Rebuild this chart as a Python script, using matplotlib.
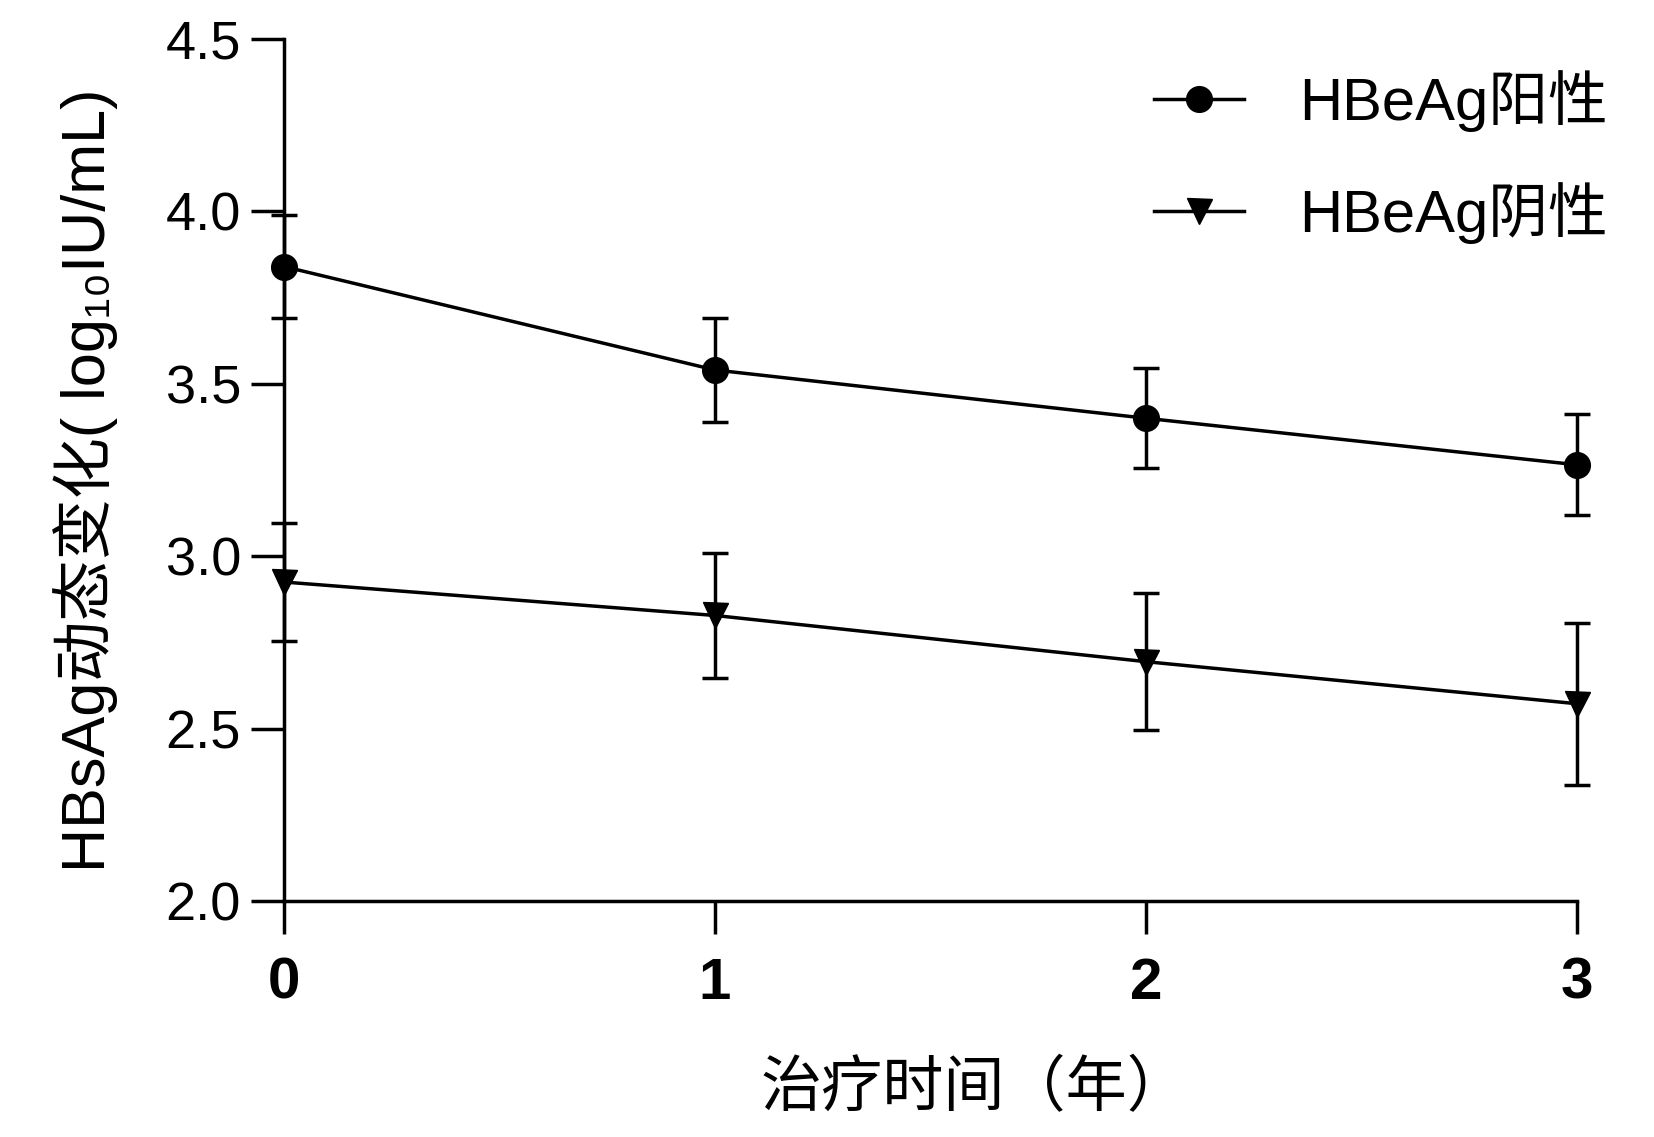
import matplotlib
matplotlib.use("Agg")
import matplotlib.pyplot as plt

plt.rcParams['font.family'] = ['Liberation Sans', 'Noto Sans CJK SC', 'DejaVu Sans']

years = [0, 1, 2, 3]
xtick_labels = ['0', '1', '2', '3']
pos_mean = [3.84, 3.54, 3.40, 3.265]
pos_err = [0.15, 0.15, 0.145, 0.147]
neg_mean = [2.925, 2.828, 2.694, 2.572]
neg_err = [0.172, 0.18, 0.198, 0.235]
series_labels = ['HBeAg阳性', 'HBeAg阴性']
yticks = [2.0, 2.5, 3.0, 3.5, 4.0, 4.5]

fig = plt.figure(figsize=(16.54, 11.37), dpi=100)
ax = fig.add_axes([0.1717, 0.2076, 0.9535 - 0.1717, 0.9657 - 0.2076])

common = dict(color='black', lw=2.5, elinewidth=2.5, capsize=9.5, capthick=2.5, clip_on=False)
e1 = ax.errorbar(years, pos_mean, yerr=pos_err, marker='o', ms=18.5, **common)
e2 = ax.errorbar(years, neg_mean, yerr=neg_err, marker='v', ms=18, **common)
for e in (e1, e2):
    for art in list(e.lines[1]) + list(e.lines[2]):
        art.set_clip_on(False)

ax.set_xlim(0, 3)
ax.set_ylim(2.0, 4.5)
ax.set_xticks(years)
ax.set_xticklabels(xtick_labels, fontsize=42, fontweight='bold')
ax.set_yticks(yticks)
ax.set_yticklabels([f'{v:.1f}' for v in yticks], fontsize=39)

for s in ['top', 'right']:
    ax.spines[s].set_visible(False)
for s in ['left', 'bottom']:
    ax.spines[s].set_linewidth(2.5)
ax.tick_params(axis='both', direction='out', length=24, width=2.5)
ax.tick_params(axis='y', pad=7)
ax.tick_params(axis='x', pad=16)

ax.set_ylabel('HBsAg动态变化( log₁₀IU/mL)', fontsize=44)
ax.yaxis.label.set(va='center', ha='center', rotation_mode='default')
ax.yaxis.set_label_coords((86 - 284) / 1293, 0.488)
ax.set_xlabel('治疗时间（年）', fontsize=44)
ax.xaxis.label.set(va='center', ha='center')
ax.xaxis.set_label_coords((974 - 284) / 1293, (901 - 1090) / 862)

leg = ax.legend([e1.lines[0], e2.lines[0]], series_labels,
                loc='upper left', bbox_to_anchor=(0.698, 0.938), bbox_transform=fig.transFigure,
                frameon=False, fontsize=43, handlelength=1.5, handletextpad=0.92,
                labelspacing=0.83, borderpad=0, borderaxespad=0)

fig.savefig('out.png', dpi=100)
